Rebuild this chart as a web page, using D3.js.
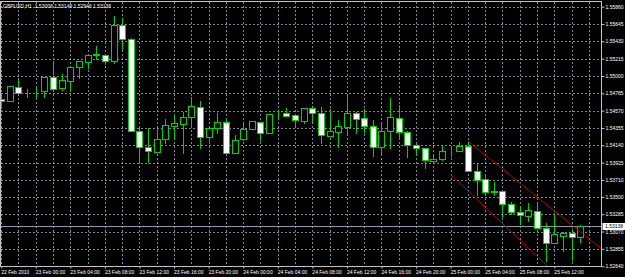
<!DOCTYPE html>
<html>
<head>
<meta charset="utf-8">
<script src="https://cdn.jsdelivr.net/npm/d3@7"></script>
<style>
  body { margin: 0; background: #000; }
  svg { display: block; }
</style>
</head>
<body>
<div id="chart"></div>
<script>
// GBPUSD H1, 22 Feb 2010 20:00 -> 25 Feb 2010 15:00 (one bar per hour)
const symbol = "GBPUSD,H1";

const opens = [
  1.54718, 1.54693, 1.54867, 1.54801, 1.54813, 1.54809, 1.54991, 1.54854, 1.54934, 1.55115,
  1.55177, 1.55265, 1.55260, 1.55189, 1.55633, 1.55455, 1.54316, 1.54122, 1.54059, 1.54213,
  1.54382, 1.54407, 1.54494, 1.54618, 1.54246, 1.54350, 1.54425, 1.54047, 1.54213, 1.54338,
  1.54425, 1.54295, 1.54524, 1.54536, 1.54515, 1.54444, 1.54598, 1.54536, 1.54258, 1.54308,
  1.54370, 1.54540, 1.54474, 1.54379, 1.54114, 1.54320, 1.54474, 1.54308, 1.54146, 1.54102,
  1.53948, 1.53969, 1.54072, 1.54072, 1.54130, 1.53824, 1.53717, 1.53568, 1.53571, 1.53406,
  1.53314, 1.53269, 1.53327, 1.53116, 1.52929, 1.53013, 1.53050, 1.53008
];
const highs = [
  1.54763, 1.54875, 1.54950, 1.54842, 1.54863, 1.54991, 1.55186, 1.55024, 1.55108, 1.55186,
  1.55260, 1.55372, 1.55260, 1.55745, 1.55716, 1.55468, 1.54382, 1.54357, 1.54350, 1.54469,
  1.54503, 1.54549, 1.54742, 1.54685, 1.54354, 1.54544, 1.54462, 1.54267, 1.54412, 1.54444,
  1.54428, 1.54528, 1.54577, 1.54606, 1.54528, 1.54598, 1.54631, 1.54611, 1.54590, 1.54453,
  1.54755, 1.54552, 1.54586, 1.54453, 1.54403, 1.54723, 1.54639, 1.54317, 1.54176, 1.54102,
  1.54031, 1.54130, 1.54114, 1.54184, 1.54192, 1.53915, 1.53783, 1.53687, 1.53571, 1.53439,
  1.53389, 1.53419, 1.53439, 1.53170, 1.53298, 1.53062, 1.53096, 1.53149
];
const lows = [
  1.54602, 1.54693, 1.54785, 1.54742, 1.54739, 1.54745, 1.54844, 1.54832, 1.54822, 1.54975,
  1.55101, 1.55207, 1.55148, 1.55165, 1.55337, 1.54317, 1.53948, 1.53928, 1.54059, 1.54164,
  1.54213, 1.54040, 1.54379, 1.54109, 1.54184, 1.54295, 1.54047, 1.54047, 1.54205, 1.54338,
  1.54205, 1.54288, 1.54462, 1.54507, 1.54391, 1.54420, 1.54432, 1.54171, 1.54258, 1.54122,
  1.54295, 1.54295, 1.54300, 1.54010, 1.54018, 1.54102, 1.54230, 1.53997, 1.54018, 1.53853,
  1.53948, 1.53956, 1.54006, 1.54072, 1.53824, 1.53522, 1.53534, 1.53522, 1.53252, 1.53286,
  1.53162, 1.53203, 1.53108, 1.52702, 1.52929, 1.52830, 1.52723, 1.52946
];
const closes = [
  1.54693, 1.54875, 1.54785, 1.54803, 1.54811, 1.54991, 1.54844, 1.54946, 1.55108, 1.55186,
  1.55257, 1.55273, 1.55189, 1.55633, 1.55455, 1.54320, 1.54122, 1.54072, 1.54221, 1.54387,
  1.54412, 1.54490, 1.54623, 1.54246, 1.54354, 1.54425, 1.54047, 1.54205, 1.54338, 1.54437,
  1.54295, 1.54524, 1.54526, 1.54507, 1.54453, 1.54598, 1.54536, 1.54267, 1.54317, 1.54379,
  1.54536, 1.54466, 1.54379, 1.54114, 1.54320, 1.54487, 1.54304, 1.54139, 1.54102, 1.53956,
  1.53965, 1.54072, 1.54074, 1.54130, 1.53824, 1.53708, 1.53559, 1.53566, 1.53406, 1.53314,
  1.53273, 1.53335, 1.53108, 1.52929, 1.53034, 1.53050, 1.53004, 1.53138
];

// one label every 4 bars
const timeLabels = [
  "22 Feb 2010", "23 Feb 00:00", "23 Feb 04:00", "23 Feb 08:00", "23 Feb 12:00",
  "23 Feb 16:00", "23 Feb 20:00", "24 Feb 00:00", "24 Feb 04:00", "24 Feb 08:00",
  "24 Feb 12:00", "24 Feb 16:00", "24 Feb 20:00", "25 Feb 00:00", "25 Feb 04:00",
  "25 Feb 08:00", "25 Feb 12:00"
];
const priceLabels = [
  "1.55860", "1.55645", "1.55430", "1.55215", "1.55000", "1.54785", "1.54570", "1.54355",
  "1.54140", "1.53925", "1.53710", "1.53500", "1.53285", "1.53070", "1.52855", "1.52640"
];

// channel drawn on the chart: [bar index, price] pairs
const channelUpper = [[54, 1.54192], [64, 1.53327]];
const channelLower = [[52, 1.53779], [62, 1.52763]];

const width = 625, height = 277;
const plot = { left: 1, top: 2, right: 602, bottom: 267 };

const bars = opens.map((o, i) => ({ i: i, o: o, h: highs[i], l: lows[i], c: closes[i] }));
const last = bars[bars.length - 1];

const svg = d3.select("#chart")
  .append("svg")
  .attr("width", width)
  .attr("height", height)
  .style("font-family", "'Liberation Sans', Arial, sans-serif");

// Scales
const x = d3.scaleLinear()
  .domain([0, bars.length - 1])
  .range([1.2, 1.2 + (bars.length - 1) * 8.643]);

const y = d3.scaleLinear()
  .domain([+priceLabels[priceLabels.length - 1], +priceLabels[0]])
  .range([266.2, 6.7]);

svg.append("defs").append("clipPath")
  .attr("id", "plotclip")
  .append("rect")
  .attr("x", plot.left)
  .attr("y", plot.top)
  .attr("width", plot.right - plot.left)
  .attr("height", plot.bottom - plot.top);

const gridColor = "#778899";
const green = "#00d400";

// Grid
const grid = svg.append("g").attr("clip-path", "url(#plotclip)");
grid.selectAll(".hgrid")
  .data(priceLabels)
  .enter().append("line")
  .attr("x1", plot.left)
  .attr("x2", plot.right)
  .attr("y1", d => Math.round(y(+d)) + 0.5)
  .attr("y2", d => Math.round(y(+d)) + 0.5)
  .attr("stroke", gridColor)
  .attr("stroke-dasharray", "2,2");

grid.selectAll(".vgrid")
  .data(d3.range(0, bars.length + 2, 2))
  .enter().append("line")
  .attr("x1", d => Math.round(x(d)) + 0.5)
  .attr("x2", d => Math.round(x(d)) + 0.5)
  .attr("y1", plot.top)
  .attr("y2", plot.bottom)
  .attr("stroke", gridColor)
  .attr("stroke-dasharray", "2,2");

// Current price line
svg.append("line")
  .attr("x1", plot.left)
  .attr("x2", plot.right)
  .attr("y1", Math.round(y(last.c)) + 0.5)
  .attr("y2", Math.round(y(last.c)) + 0.5)
  .attr("stroke", "#8c9cac");

// Candles
const candles = svg.append("g").attr("clip-path", "url(#plotclip)");

candles.selectAll(".wick")
  .data(bars)
  .enter().append("line")
  .attr("x1", d => Math.round(x(d.i)) + 0.5)
  .attr("x2", d => Math.round(x(d.i)) + 0.5)
  .attr("y1", d => Math.round(y(d.h)))
  .attr("y2", d => Math.round(y(d.l)) + 1)
  .attr("stroke", green);

candles.selectAll(".body")
  .data(bars)
  .enter().append("rect")
  .attr("x", d => Math.round(x(d.i)) - 2.5)
  .attr("y", d => Math.round(y(Math.max(d.o, d.c))) + 0.5)
  .attr("width", 6)
  .attr("height", d => Math.max(0, Math.round(y(Math.min(d.o, d.c))) - Math.round(y(Math.max(d.o, d.c)))))
  .attr("fill", d => d.c >= d.o ? "#000" : "#fff")
  .attr("stroke", green);

// Channel lines (rays to the right)
function channelPath(pts) {
  const [a, b] = pts;
  const slope = (b[1] - a[1]) / (b[0] - a[0]);
  const end = bars.length + 4;
  return d3.line()([[x(a[0]), y(a[1])], [x(end), y(a[1] + slope * (end - a[0]))]]);
}

candles.selectAll(".channel")
  .data([channelUpper, channelLower])
  .enter().append("path")
  .attr("d", channelPath)
  .attr("fill", "none")
  .attr("stroke", "#c00000")
  .attr("stroke-width", 1);

// Frame
svg.append("rect")
  .attr("x", plot.left - 0.5)
  .attr("y", plot.top - 0.5)
  .attr("width", plot.right - plot.left)
  .attr("height", plot.bottom - plot.top)
  .attr("fill", "none")
  .attr("stroke", "#c4c4c4");

// Price axis
const yAxis = svg.append("g")
  .attr("transform", `translate(${plot.right - 0.5},0)`)
  .call(d3.axisRight(y)
    .tickValues(priceLabels.map(Number))
    .tickFormat(d3.format(".5f"))
    .tickSize(3)
    .tickPadding(1));
yAxis.select(".domain").remove();
yAxis.selectAll("line").attr("stroke", "#c4c4c4");
yAxis.selectAll("text")
  .attr("fill", "#fff")
  .style("font-size", "5px");

// Time axis
const xAxis = svg.append("g")
  .attr("transform", `translate(0,${plot.bottom - 0.5})`)
  .call(d3.axisBottom(x)
    .tickValues(timeLabels.map((d, i) => i * 4))
    .tickFormat((d, i) => timeLabels[i])
    .tickSize(2));
xAxis.select(".domain").remove();
xAxis.selectAll("line").attr("stroke", "#c4c4c4");
xAxis.selectAll("text")
  .attr("fill", "#fff")
  .attr("text-anchor", "start")
  .attr("x", -0.5)
  .attr("y", 7.5)
  .attr("dy", 0)
  .style("font-size", "5px");

// Current price label
const fmt = d3.format(".5f");
svg.append("rect")
  .attr("x", plot.right + 0.5)
  .attr("y", Math.round(y(last.c)) - 3)
  .attr("width", width - plot.right)
  .attr("height", 7)
  .attr("fill", "#fff");
svg.append("text")
  .attr("x", plot.right + 3)
  .attr("y", Math.round(y(last.c)) + 0.5)
  .attr("dy", "0.35em")
  .attr("fill", "#000")
  .style("font-size", "5px")
  .text(fmt(last.c));

// Header
svg.append("text")
  .attr("x", 3)
  .attr("y", 8.4)
  .attr("fill", "#fff")
  .style("font-size", "5px")
  .style("white-space", "pre")
  .text(`${symbol}  ${fmt(last.o)} ${fmt(last.h)} ${fmt(last.l)} ${fmt(last.c)}`);
</script>
</body>
</html>
